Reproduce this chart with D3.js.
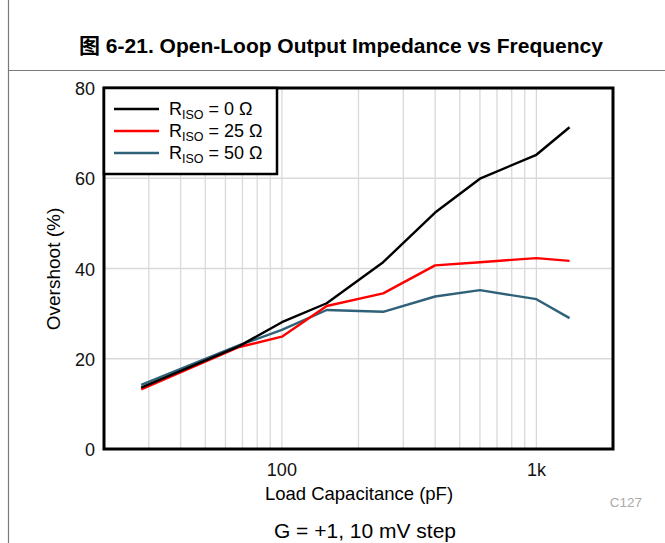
<!DOCTYPE html>
<html lang="en">
<head>
<meta charset="UTF-8">
<title>Overshoot vs Load Capacitance</title>
<script src="https://d3js.org/d3.v7.min.js"></script>
<style>
  body { margin: 0; background: #fff; }
  text { font-family: "Liberation Sans", Arial, "Noto Sans CJK SC", sans-serif; }
  .grid line { stroke: #d9d9d9; stroke-width: 1.3; }
  .tick-label { font-size: 18px; fill: #111; }
</style>
</head>
<body>
<svg width="665" height="543"></svg>
<script>
// load capacitance (pF)
const capacitance = [28, 68, 100, 150, 250, 400, 600, 1000, 1350];
// overshoot (%) per RISO
const riso0  = [13.6, 22.8, 28.1, 32.3, 41.4, 52.4, 59.9, 65.2, 71.3];
const riso25 = [13.2, 22.6, 24.9, 31.7, 34.5, 40.7, 41.4, 42.3, 41.7];
const riso50 = [14.2, 23.0, 26.4, 30.8, 30.4, 33.8, 35.2, 33.2, 29.0];

const seriesNames = ["0", "25", "50"];
const seriesColors = ["#000000", "#ff0000", "#2f6178"];
const yTicks = [0, 20, 40, 60, 80];
const xTicks = [100, 1000];
const xTickLabels = ["100", "1k"];

const svg = d3.select("svg");

// page frame
svg.append("line").attr("x1", 8.5).attr("x2", 8.5).attr("y1", 0).attr("y2", 543)
  .attr("stroke", "#7a7a7a").attr("stroke-width", 1.2);
svg.append("line").attr("x1", 8).attr("x2", 665).attr("y1", 70.5).attr("y2", 70.5)
  .attr("stroke", "#7a7a7a").attr("stroke-width", 1.2);

svg.append("text")
  .attr("x", 341).attr("y", 53)
  .attr("text-anchor", "middle")
  .style("font-size", "21px").style("font-weight", "bold")
  .text("图 6-21. Open-Loop Output Impedance vs Frequency");

const x = d3.scaleLog().domain([20, 2000]).range([104, 613]);
const y = d3.scaleLinear().domain([0, 80]).range([449, 88]);

// grid
const minor = [];
for (let d = 10; d <= 1000; d *= 10) {
  for (let m = 1; m <= 9; m++) {
    const v = d * m;
    if (v > 20 && v < 2000) minor.push(v);
  }
}
const grid = svg.append("g").attr("class", "grid");
grid.selectAll(".vx").data(minor).enter().append("line")
  .attr("x1", d => x(d)).attr("x2", d => x(d))
  .attr("y1", y(80)).attr("y2", y(0));
grid.selectAll(".hy").data(yTicks.slice(1, -1)).enter().append("line")
  .attr("x1", x(20)).attr("x2", x(2000))
  .attr("y1", d => y(d)).attr("y2", d => y(d));

// lines
const allSeries = [riso0, riso25, riso50];
const line = d3.line()
  .x((d, i) => x(capacitance[i]))
  .y(d => y(d));

svg.selectAll(".series").data(allSeries.slice().reverse()).enter().append("path")
  .attr("fill", "none")
  .attr("stroke", (d, i) => seriesColors[2 - i])
  .attr("stroke-width", 2.4)
  .attr("stroke-linejoin", "round")
  .attr("d", line);

// plot frame
svg.append("rect")
  .attr("x", x(20)).attr("y", y(80))
  .attr("width", x(2000) - x(20)).attr("height", y(0) - y(80))
  .attr("fill", "none").attr("stroke", "#000").attr("stroke-width", 3);

// axis labels
svg.selectAll(".ylab").data(yTicks).enter().append("text")
  .attr("class", "tick-label")
  .attr("x", 95).attr("y", d => y(d) + 7)
  .attr("text-anchor", "end")
  .text(d => d);

svg.selectAll(".xlab").data(xTicks).enter().append("text")
  .attr("class", "tick-label")
  .attr("x", d => x(d)).attr("y", 476)
  .attr("text-anchor", "middle")
  .text((d, i) => xTickLabels[i]);

svg.append("text")
  .attr("transform", "translate(60,269) rotate(-90)")
  .attr("text-anchor", "middle")
  .style("font-size", "19px")
  .text("Overshoot (%)");

svg.append("text")
  .attr("x", 359).attr("y", 500)
  .attr("text-anchor", "middle")
  .style("font-size", "18.5px")
  .text("Load Capacitance (pF)");

svg.append("text")
  .attr("x", 642).attr("y", 507)
  .attr("text-anchor", "end")
  .style("font-size", "13.5px").style("fill", "#aaaaaa")
  .text("C127");

svg.append("text")
  .attr("x", 365).attr("y", 538)
  .attr("text-anchor", "middle")
  .style("font-size", "21px")
  .text("G = +1, 10 mV step");

// legend
const legend = svg.append("g");
legend.append("rect")
  .attr("x", 104).attr("y", 88).attr("width", 173).attr("height", 86)
  .attr("fill", "#fff").attr("stroke", "#000").attr("stroke-width", 2.5);

const rows = legend.selectAll(".row").data(seriesNames).enter().append("g")
  .attr("transform", (d, i) => `translate(0,${109 + i * 22})`);
rows.append("line")
  .attr("x1", 114).attr("x2", 159).attr("y1", 0).attr("y2", 0)
  .attr("stroke", (d, i) => seriesColors[i]).attr("stroke-width", 2.4);
const lt = rows.append("text")
  .attr("x", 169).attr("y", 6)
  .style("font-size", "18px");
lt.append("tspan").text("R");
lt.append("tspan").attr("dy", 4).style("font-size", "12.5px").text("ISO");
lt.append("tspan").attr("dy", -4).text(d => ` = ${d} Ω`);
</script>
</body>
</html>
